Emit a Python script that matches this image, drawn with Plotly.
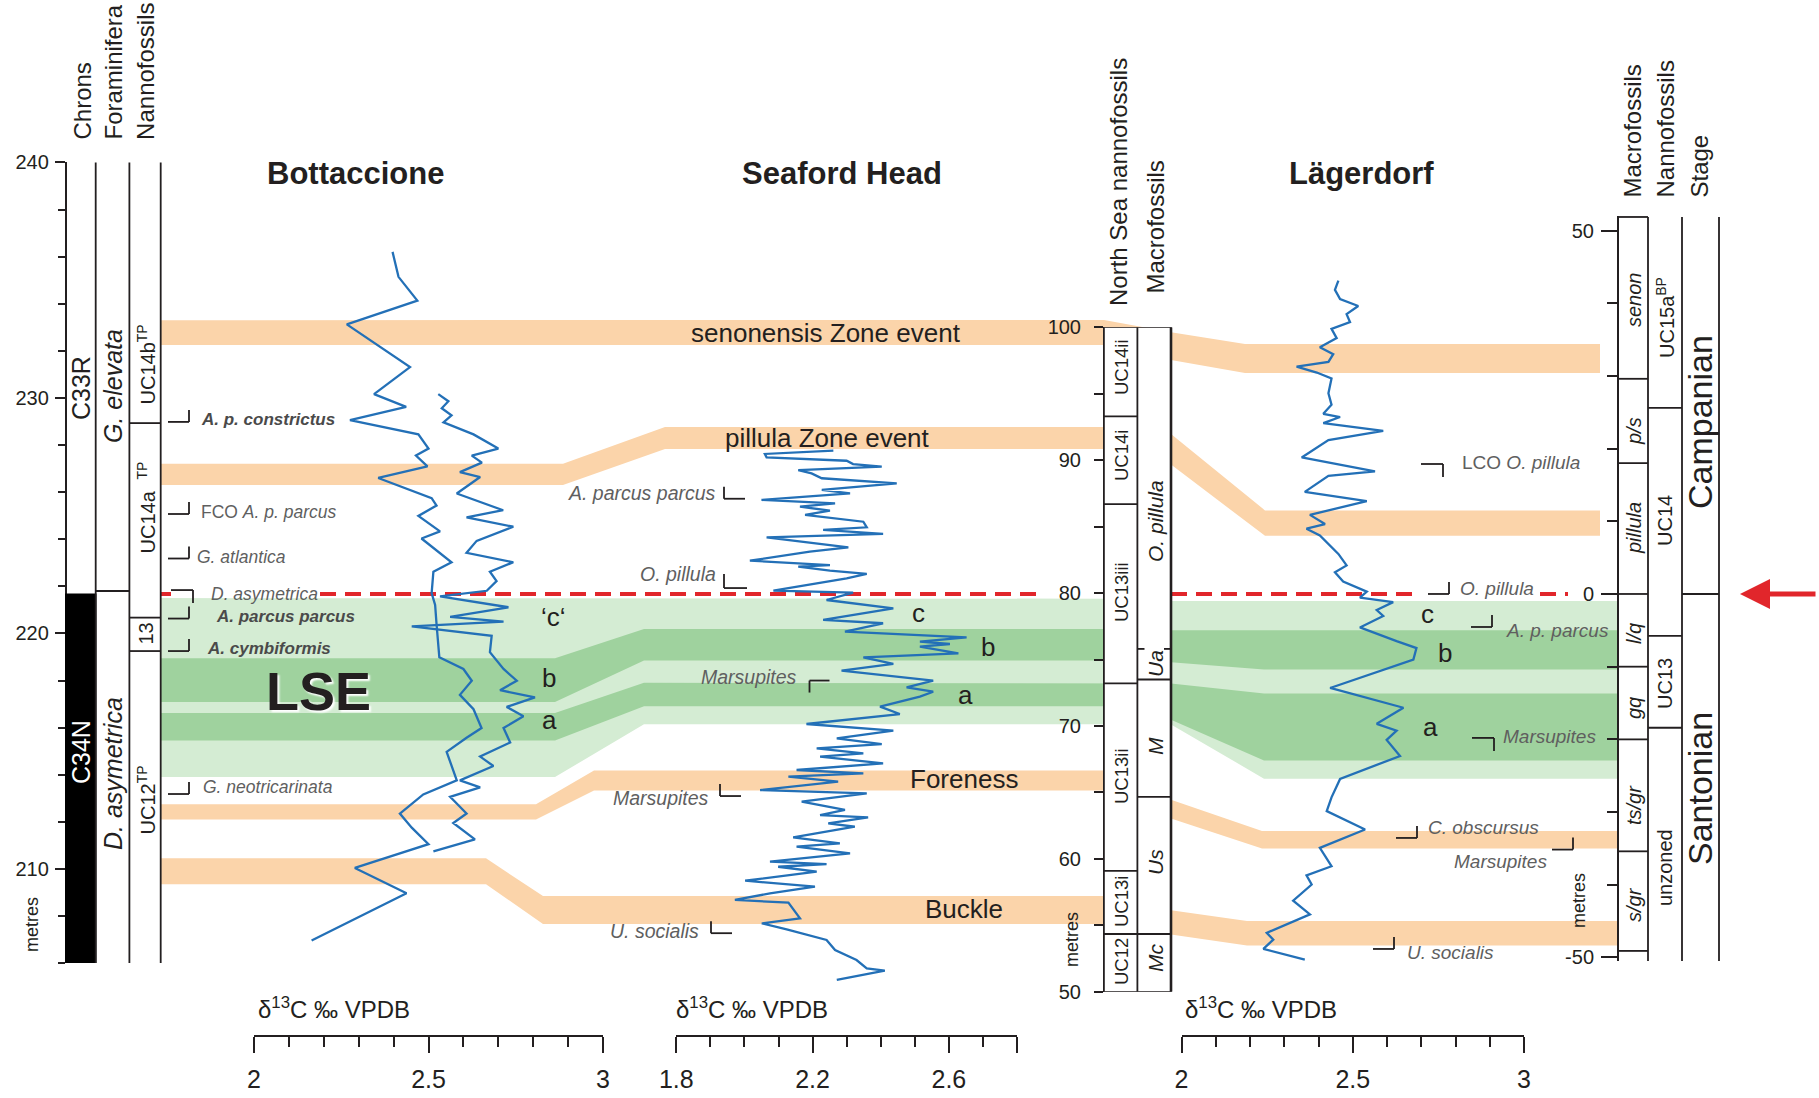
import plotly.graph_objects as go

W, H = 1819, 1098
FONT = "Liberation Sans, Arial, Helvetica, sans-serif"
INK = "#231f20"
MARK_GREY = "#5f5f5f"
MARK_BOLD = "#4a4a4a"
BLUE = "#2370b7"
ORANGE = "#fbd4aa"
LGREEN = "#d4ecd3"
DGREEN = "#9fd29e"
RED = "#e1262b"

# ---------------- data: d13C curves (per mille VPDB) vs depth (m) ----------------
bott_a_d13c = [2.397, 2.414, 2.468, 2.266, 2.447, 2.344, 2.436, 2.275, 2.471, 2.500, 2.464, 2.497, 2.356,
               2.509, 2.523, 2.471, 2.533, 2.480, 2.566, 2.514, 2.509, 2.519, 2.523, 2.531, 2.600, 2.624,
               2.590, 2.629, 2.652, 2.609, 2.552, 2.581, 2.485, 2.418, 2.452, 2.500, 2.289, 2.437, 2.165]
bott_a_depth = [236.20, 235.14, 234.13, 233.12, 231.31, 230.16, 229.62, 229.06, 228.45, 227.85, 227.55,
                227.09, 226.60, 225.74, 225.43, 224.99, 224.33, 224.03, 223.02, 222.62, 221.71, 221.21,
                220.40, 218.99, 218.49, 217.99, 217.39, 216.78, 215.98, 215.57, 214.97, 213.76, 213.16,
                212.35, 211.75, 211.05, 210.04, 208.97, 206.96]

bott_b_d13c = [2.528, 2.557, 2.538, 2.566, 2.543, 2.629, 2.700, 2.624, 2.653, 2.590, 2.648, 2.581, 2.714,
               2.609, 2.743, 2.638, 2.609, 2.743, 2.676, 2.695, 2.667, 2.533, 2.729, 2.562, 2.715, 2.452,
               2.681, 2.676, 2.715, 2.753, 2.705, 2.805, 2.724, 2.772, 2.715, 2.734, 2.648, 2.686, 2.590,
               2.648, 2.562, 2.609, 2.571, 2.633, 2.514]
bott_b_depth = [230.16, 229.86, 229.56, 229.26, 228.96, 228.45, 227.85, 227.55, 227.25, 226.85, 226.64,
                225.94, 225.23, 224.93, 224.53, 223.93, 223.42, 223.02, 222.62, 222.22, 221.81, 221.57,
                221.11, 220.70, 220.50, 220.30, 219.90, 219.20, 218.49, 217.99, 217.59, 217.28, 216.88,
                216.48, 215.98, 215.37, 214.77, 214.37, 213.76, 213.46, 213.06, 212.35, 211.95, 211.25,
                210.74]

seaf_d13c = [2.261, 2.060, 2.065, 2.300, 2.319, 2.403, 2.158, 2.197, 2.227, 2.447, 2.227, 2.310, 2.050,
             2.266, 2.163, 2.251, 2.178, 2.349, 2.359, 2.231, 2.407, 2.065, 2.305, 2.192, 2.016, 2.251,
             2.158, 2.251, 2.359, 2.300, 2.085, 2.319, 2.241, 2.437, 2.231, 2.407, 2.295, 2.652, 2.515,
             2.603, 2.515, 2.628, 2.349, 2.437, 2.285, 2.554, 2.476, 2.554, 2.515, 2.398, 2.456, 2.182,
             2.437, 2.271, 2.403, 2.212, 2.349, 2.222, 2.407, 2.153, 2.349, 2.129, 2.275, 2.046, 2.359,
             2.168, 2.295, 2.222, 2.363, 2.246, 2.324, 2.143, 2.280, 2.153, 2.310, 2.075, 2.241, 2.099,
             2.212, 2.002, 2.207, 2.075, 1.972, 2.129, 2.163, 2.051, 2.124, 2.241, 2.266, 2.329, 2.359,
             2.412, 2.271]
seaf_depth = [90.72, 90.47, 90.22, 89.96, 89.71, 89.51, 89.26, 89.01, 88.64, 88.26, 87.76, 87.51, 87.01,
              86.75, 86.50, 86.20, 85.88, 85.37, 84.95, 84.75, 84.45, 84.20, 83.44, 83.12, 82.44, 82.11,
              81.99, 81.69, 81.44, 81.11, 80.18, 80.03, 79.48, 78.85, 77.98, 77.73, 77.10, 76.67, 76.35,
              76.17, 75.97, 75.47, 75.17, 74.67, 74.16, 73.41, 72.91, 72.58, 72.21, 71.46, 70.90, 70.15,
              69.65, 69.07, 68.64, 68.32, 67.94, 67.69, 67.19, 66.69, 66.44, 66.19, 65.81, 65.18, 64.93,
              64.31, 63.68, 63.30, 63.13, 62.67, 62.42, 61.62, 61.17, 60.92, 60.42, 59.79, 59.61, 59.41,
              59.04, 58.36, 57.91, 57.41, 56.91, 56.71, 55.53, 55.15, 54.70, 53.90, 53.14, 52.39, 51.76,
              51.59, 50.89]

lag_d13c = [2.458, 2.448, 2.463, 2.516, 2.482, 2.492, 2.438, 2.453, 2.404, 2.443, 2.429, 2.336, 2.395,
            2.438, 2.429, 2.438, 2.414, 2.463, 2.414, 2.589, 2.429, 2.351, 2.565, 2.429, 2.360, 2.541,
            2.375, 2.419, 2.365, 2.404, 2.458, 2.482, 2.448, 2.472, 2.541, 2.521, 2.618, 2.570, 2.589,
            2.521, 2.628, 2.686, 2.677, 2.434, 2.648, 2.570, 2.628, 2.599, 2.638, 2.463, 2.438, 2.424,
            2.536, 2.404, 2.438, 2.365, 2.380, 2.326, 2.375, 2.249, 2.268, 2.239, 2.360]
lag_depth = [43.10, 41.83, 40.57, 39.62, 38.49, 37.41, 36.46, 35.20, 33.94, 32.99, 31.92, 31.28, 30.46,
             29.64, 27.62, 26.04, 24.78, 24.34, 23.51, 22.44, 21.18, 18.78, 16.88, 16.25, 14.04, 12.78,
             10.88, 9.62, 8.98, 8.04, 5.51, 3.93, 2.98, 1.72, 0.33, -0.49, -1.12, -2.20, -3.02, -4.60,
             -6.49, -7.44, -9.02, -12.93, -15.65, -17.86, -18.81, -20.07, -22.28, -25.44, -27.97, -29.87,
             -32.39, -34.92, -37.45, -38.71, -39.97, -42.18, -44.08, -46.61, -47.55, -48.82, -50.30]

# ---------------- data: correlation bands (depth in each section, m) ----------------
band_kind = ["orange", "orange", "light", "dark", "dark", "orange", "orange"]
band_bott_top = [233.30, 227.20, 221.50, 218.95, 216.62, 212.75, 210.45]
band_bott_bot = [232.25, 226.30, 213.90, 217.09, 215.45, 212.10, 209.35]
band_seaf_top = [100.55, 92.50, 79.58, 77.30, 73.25, 66.65, 57.20]
band_seaf_bot = [98.67, 90.85, 70.13, 74.93, 71.48, 65.15, 55.10]
band_lag_top_start = [36.0, 22.0, -0.95, -5.0, -12.3, -28.3, -43.5]
band_lag_bot_start = [32.2, 17.8, -17.95, -9.4, -17.3, -30.9, -46.85]
band_lag_top_end = [34.4, 11.5, -0.95, -5.0, -13.7, -32.6, -45.0]
band_lag_bot_end = [30.4, 8.0, -25.4, -10.4, -22.9, -35.0, -48.35]
red_line_lag_depth = 0.0

# ---------------- data: zone boundaries (m) ----------------
bott_chron_boundary = 221.66
bott_foram_boundary = 221.80
bott_nanno_bounds = [228.93, 220.67, 219.25]
seaf_ns_nanno_bounds = [93.3, 86.7, 73.2, 59.1, 54.35]
seaf_macro_bounds = [73.5, 64.66, 54.35]
seaf_macro_minor = 75.8
lag_macro_bounds = [29.6, 18.0, 0.0, -10.0, -20.0, -35.4, -49.1]
lag_macro_top = 51.86
lag_nanno_bounds = [25.6, -5.75, -18.4]
lag_stage_bound = 0.0

# ---------------- data: bio-events ----------------
ev_bott_label = ["<b><i>A. p. constrictus</i></b>", "FCO <i>A. p. parcus</i>", "<i>G. atlantica</i>",
                 "<i>D. asymetrica</i>", "<b><i>A. parcus parcus</i></b>", "<b><i>A. cymbiformis</i></b>",
                 "<i>G. neotricarinata</i>"]
ev_bott_depth = [228.98, 225.07, 223.18, 221.84, 220.63, 219.25, 213.18]
ev_seaf_label = ["<i>A. parcus parcus</i>", "<i>O. pillula</i>", "<i>Marsupites</i>", "<i>Marsupites</i>",
                 "<i>U. socialis</i>"]
ev_seaf_depth = [87.1, 80.38, 73.42, 64.73, 54.41]
ev_lag_label = ["LCO <i>O. pillula</i>", "<i>O. pillula</i>", "<i>A. p. parcus</i>", "<i>Marsupites</i>",
                "<i>C. obscursus</i>", "<i>Marsupites</i>", "<i>U. socialis</i>"]
ev_lag_depth = [17.88, 0.0, -4.54, -19.8, -33.56, -35.16, -48.83]

# ---------------- layout geometry (pixels) ----------------
SEC = {
    "B": dict(x_px=(254.0, 603.0), x_rng=(2.0, 3.0), y_px=(963.1, 162.4), y_rng=(206.0, 240.0), axis_x=65.8),
    "S": dict(x_px=(676.3, 1017.0), x_rng=(1.8, 2.8), y_px=(991.8, 327.3), y_rng=(50.0, 100.0), axis_x=1104.0),
    "L": dict(x_px=(1181.5, 1524.0), x_rng=(2.0, 3.0), y_px=(961.1, 215.96), y_rng=(-50.5, 52.0), axis_x=1618.0),
}
XAXIS_Y = 1036.0


def ypx(sec, d):
    s = SEC[sec]
    p0, p1 = s["y_px"]
    r0, r1 = s["y_rng"]
    return p0 + (d - r0) / (r1 - r0) * (p1 - p0)


BAND_X_B_START, BAND_X_S_END, BAND_X_L_START = 160.7, 1104.0, 1171.0
band_xB_end = [600, 563, 555, 555, 555, 536, 486]
band_xS_start = [600, 665, 644, 644, 644, 594, 543]
band_xL_kink = [1245, 1265, 1264, 1264, 1264, 1262, 1247]
band_xL_end = [1600, 1600, 1618, 1618, 1618, 1618, 1618]
band_color = {"orange": ORANGE, "light": LGREEN, "dark": DGREEN}

fig = go.Figure()

# ---- bands (pixel overlay) ----
for i, kind in enumerate(band_kind):
    xs = [BAND_X_B_START, band_xB_end[i], band_xS_start[i], BAND_X_S_END, BAND_X_L_START,
          band_xL_kink[i], band_xL_end[i]]
    yt = [ypx("B", band_bott_top[i]), ypx("B", band_bott_top[i]), ypx("S", band_seaf_top[i]),
          ypx("S", band_seaf_top[i]), ypx("L", band_lag_top_start[i]), ypx("L", band_lag_top_end[i]),
          ypx("L", band_lag_top_end[i])]
    yb = [ypx("B", band_bott_bot[i]), ypx("B", band_bott_bot[i]), ypx("S", band_seaf_bot[i]),
          ypx("S", band_seaf_bot[i]), ypx("L", band_lag_bot_start[i]), ypx("L", band_lag_bot_end[i]),
          ypx("L", band_lag_bot_end[i])]
    fig.add_trace(go.Scatter(x=xs + xs[::-1], y=yt + yb[::-1], fill="toself", fillcolor=band_color[kind],
                             mode="lines", line=dict(width=0), hoverinfo="skip", showlegend=False,
                             xaxis="x", yaxis="y"))

# ---- red dashed datum line ----
ry = ypx("L", red_line_lag_depth)
rx = [160.7, 171, None, 320, 1045, None, 1171, 1421, None, 1540, 1568]
fig.add_trace(go.Scatter(x=rx, y=[None if v is None else ry for v in rx], mode="lines",
                         line=dict(color=RED, width=4, dash="16px,9px"), hoverinfo="skip",
                         showlegend=False, xaxis="x", yaxis="y", connectgaps=False))

# ---- d13C curves ----
for xs, ys, xa, ya in [(bott_a_d13c, bott_a_depth, "x2", "y2"), (bott_b_d13c, bott_b_depth, "x2", "y2"),
                       (seaf_d13c, seaf_depth, "x3", "y3"), (lag_d13c, lag_depth, "x4", "y4")]:
    fig.add_trace(go.Scatter(x=xs, y=ys, mode="lines", line=dict(color=BLUE, width=2.3),
                             hoverinfo="skip", showlegend=False, xaxis=xa, yaxis=ya))

shapes = []


def seg(x0, y0, x1, y1, w=1.8, color=INK, yref="y"):
    shapes.append(dict(type="line", xref="x", yref=yref, x0=x0, y0=y0, x1=x1, y1=y1,
                       line=dict(color=color, width=w), layer="above"))


# ---- Bottaccione columns ----
shapes.append(dict(type="rect", xref="x", yref="y2", x0=65.8, x1=95.7, y0=206.0, y1=bott_chron_boundary,
                   fillcolor="black", line=dict(color="black", width=1.5), layer="above"))
for xv in [95.7, 129.4, 160.7]:
    seg(xv, 206.0, xv, 240.1, yref="y2")
seg(65.8, 240.0, 65.8, 240.1, yref="y2")
seg(95.7, bott_foram_boundary, 129.4, bott_foram_boundary, yref="y2")
for d in bott_nanno_bounds:
    seg(129.4, d, 160.7, d, yref="y2")

# ---- Seaford columns ----
for x0, x1 in [(1104.0, 1137.5), (1137.5, 1171.0)]:
    shapes.append(dict(type="rect", xref="x", yref="y3", x0=x0, x1=x1, y0=50.0, y1=100.0,
                       fillcolor="white", line=dict(color=INK, width=1.6), layer="above"))
seg(1171.0, 50.0, 1171.0, 100.0, w=2.6, yref="y3")
for d in seaf_ns_nanno_bounds:
    seg(1104.0, d, 1137.5, d, yref="y3")
for d in seaf_macro_bounds:
    seg(1137.5, d, 1171.0, d, yref="y3")
seg(1137.5, seaf_macro_minor, 1144.5, seaf_macro_minor, yref="y3")
seg(1164.0, seaf_macro_minor, 1171.0, seaf_macro_minor, yref="y3")

# ---- Lagerdorf right columns ----
seg(1618.0, lag_macro_top, 1648.0, lag_macro_top, yref="y4")
for xv in [1648.0, 1682.0, 1719.0]:
    seg(xv, -50.6, xv, lag_macro_top, yref="y4")
for d in lag_macro_bounds:
    seg(1618.0, d, 1648.0, d, yref="y4")
for d in lag_nanno_bounds:
    seg(1648.0, d, 1682.0, d, yref="y4")
seg(1682.0, lag_stage_bound, 1719.0, lag_stage_bound, yref="y4")


# ---- bracket marks ----
def bracket(kind, x0, y):
    if kind == "_|":
        seg(x0, y, x0 + 21, y); seg(x0 + 21, y - 12, x0 + 21, y)
    elif kind == "¬":
        seg(x0, y, x0 + 22, y); seg(x0 + 22, y, x0 + 22, y + 13)
    elif kind == "L":
        seg(x0, y - 12, x0, y); seg(x0, y, x0 + 21, y)
    elif kind == "L2":
        seg(x0, y - 14, x0, y); seg(x0, y, x0 + 23, y)
    elif kind == "Γ":
        seg(x0, y, x0, y + 12); seg(x0, y, x0 + 20, y)


annotations = []


def ann(x, y, text, size=20, color=INK, xanchor="center", yanchor="middle", angle=0, **kw):
    d = dict(x=x, y=y, xref="x", yref="y", text=text, showarrow=False, xanchor=xanchor, yanchor=yanchor,
             textangle=angle, font=dict(family=FONT, size=size, color=color))
    d.update(kw)
    annotations.append(d)


# event spec: (kind, bracket x0, text x, text anchor, text dy)
spec_bott = [("_|", 168, 199, "left", -2), ("_|", 168, 199, "left", -2), ("_|", 168, 195, "left", -2),
             ("¬", 171, 209, "left", 3.5), ("_|", 168, 214, "left", -2), ("_|", 168, 205, "left", -2.5),
             ("_|", 168, 201, "left", -6.7)]
spec_seaf = [("L", 724, 718, "right", -6), ("L2", 724, 718, "right", -14), ("Γ", 809.5, 799, "right", -3.6),
             ("L", 720, 711, "right", 2), ("L", 711, 701, "right", -1.7)]
spec_lag = [("¬", 1421, 1460, "left", -2), ("_|", 1428, 1458, "left", -5.4), ("_|", 1471, 1504, "left", 4),
            ("¬", 1472, 1501, "left", -1), ("_|", 1396, 1426, "left", -10), ("_|", 1552, 1549, "right", 12.4),
            ("_|", 1373, 1405, "left", 3.8)]

for sec, labels, depths, specs, size in [("B", ev_bott_label, ev_bott_depth, spec_bott, 17.5),
                                         ("S", ev_seaf_label, ev_seaf_depth, spec_seaf, 19.5),
                                         ("L", ev_lag_label, ev_lag_depth, spec_lag, 19)]:
    for lab, d, (kind, bx, tx, anc, dy) in zip(labels, depths, specs):
        y = ypx(sec, d)
        bracket(kind, bx, y)
        col = MARK_BOLD if "<b>" in lab else MARK_GREY
        ann(tx, y + dy, lab, size=(17 if "<b>" in lab else size), color=col, xanchor=anc)

# ---- titles ----
for x, t in [(355, "Bottaccione"), (841.5, "Seaford Head"), (1361, "Lägerdorf")]:
    ann(x, 173, "<b>" + t + "</b>", size=31)

# ---- column headers (rotated) ----
for x, yb, t in [(82, 142, "Chrons"), (113, 142, "Foraminifera"), (145.4, 142, "Nannofossils"),
                 (1118, 308, "North Sea nannofossils"), (1155, 296, "Macrofossils"),
                 (1632, 200, "Macrofossils"), (1665, 200, "Nannofossils"), (1699, 200, "Stage")]:
    ann(x, yb, t, size=24, angle=-90, yanchor="bottom")

# ---- Bottaccione column labels ----
ann(81, 388, "C33R", size=25, angle=-90)
ann(81, 752, "C34N", size=25, angle=-90, color="white")
ann(113, 386, "<i>G. elevata</i>", size=25, angle=-90)
ann(113, 774, "<i>D. asymetrica</i>", size=25, angle=-90)
ann(145.5, 365, "UC14b<sup>TP</sup>", size=20, angle=-90)
ann(145.5, 508, "UC14a<sup>\u00a0\u00a0\u00a0TP</sup>", size=20, angle=-90)
ann(145.5, 634, "13", size=20, angle=-90)
ann(145.5, 800, "UC12<sup>TP</sup>", size=20, angle=-90)

# ---- Seaford column labels ----
for y, t in [(367, "UC14ii"), (456, "UC14i"), (592, "UC13iii"), (776, "UC13ii"), (902, "UC13i"), (962, "UC12")]:
    ann(1121, y, t, size=18.5, angle=-90)
for y, t in [(521, "O. pillula"), (664, "Ua"), (746, "M"), (862, "Us"), (958, "Mc")]:
    ann(1155, y, "<i>" + t + "</i>", size=21, angle=-90)

# ---- Lagerdorf column labels ----
for y, t in [(300, "senon"), (431, "p/s"), (528, "pillula"), (634, "l/q"), (708, "gq"), (805, "ts/gr"),
             (905, "s/gr")]:
    ann(1634, y, "<i>" + t + "</i>", size=20, angle=-90)
for y, t in [(318, "UC15a<sup>BP</sup>"), (521, "UC14"), (684, "UC13"), (868, "unzoned")]:
    ann(1665, y, t, size=20, angle=-90)
ann(1700, 422, "Campanian", size=34, angle=-90)
ann(1700, 789, "Santonian", size=34, angle=-90)

# ---- metres ----
for x, y in [(32, 925), (1072, 940), (1579, 901)]:
    ann(x, y, "metres", size=18, angle=-90)

# ---- d13C axis titles ----
for x in [256, 674, 1183]:
    ann(x, 1008, "δ<sup>13</sup>C ‰ VPDB", size=24, xanchor="left")

# ---- band labels ----
for x, y, t in [(826, 333, "senonensis Zone event"), (827.5, 438, "pillula Zone event"),
                (964, 779, "Foreness"), (964, 909, "Buckle")]:
    ann(x, y, t, size=26)

# ---- a b c labels ----
for x, y, t in [(553, 616.5, "‘c‘"), (549, 678, "b"), (549, 720, "a"), (918, 613, "c"), (988, 647, "b"),
                (965, 695, "a"), (1427, 614, "c"), (1445, 653, "b"), (1430, 727, "a")]:
    ann(x, y, t, size=26)

ann(318.5, 691, "<b>LSE</b>", size=54)
annotations[-1]["font"]["shadow"] = "2px 2px 2px white"

# ---- red arrow ----
annotations.append(dict(x=1740, y=ry, ax=1817, ay=ry, xref="x", yref="y", axref="x", ayref="y", text="",
                        showarrow=True, arrowhead=2, arrowsize=1.2, arrowwidth=5, arrowcolor=RED))


def xaxis(sec, tickvals, ticktext, minor_vals):
    s = SEC[sec]
    return dict(domain=[s["x_px"][0] / W, s["x_px"][1] / W], range=list(s["x_rng"]), anchor="free",
                position=1 - XAXIS_Y / H, showgrid=False, zeroline=False, showline=True, linecolor=INK,
                linewidth=2, ticks="outside", ticklen=16, tickwidth=2, tickcolor=INK, tickmode="array",
                tickvals=tickvals, ticktext=ticktext, ticklabelstandoff=5, automargin=False,
                tickfont=dict(family=FONT, size=25, color=INK),
                minor=dict(tickvals=minor_vals, ticks="outside", ticklen=10, tickwidth=2, tickcolor=INK),
                fixedrange=True)


def yaxis(sec, tickvals, ticktext, minor_vals, ticklen, minorlen, standoff):
    s = SEC[sec]
    return dict(domain=[1 - s["y_px"][0] / H, 1 - s["y_px"][1] / H], range=list(s["y_rng"]), anchor="free",
                position=s["axis_x"] / W, showgrid=False, zeroline=False, showline=True, linecolor=INK,
                linewidth=2, ticks="outside", ticklen=ticklen, tickwidth=2, tickcolor=INK, tickmode="array",
                tickvals=tickvals, ticktext=ticktext, ticklabelstandoff=standoff, automargin=False,
                tickfont=dict(family=FONT, size=20, color=INK),
                minor=dict(tickvals=minor_vals, ticks="outside", ticklen=minorlen, tickwidth=2, tickcolor=INK),
                fixedrange=True)


tenths_B = [2.1, 2.2, 2.3, 2.4, 2.6, 2.7, 2.8, 2.9]
tenths_S = [1.9, 2.0, 2.1, 2.3, 2.4, 2.5, 2.7]
fig.update_layout(
    template="none",
    width=W, height=H, autosize=False, margin=dict(l=0, r=0, t=0, b=0, pad=0), paper_bgcolor="white",
    plot_bgcolor="rgba(0,0,0,0)", showlegend=False, hovermode=False,
    xaxis=dict(range=[0, W], domain=[0, 1], visible=False, fixedrange=True, automargin=False),
    yaxis=dict(range=[H, 0], domain=[0, 1], visible=False, fixedrange=True, automargin=False),
    xaxis2=xaxis("B", [2, 2.5, 3], ["2", "2.5", "3"], tenths_B),
    xaxis3=xaxis("S", [1.8, 2.2, 2.6, 2.8], ["1.8", "2.2", "2.6", ""], tenths_S),
    xaxis4=xaxis("L", [2, 2.5, 3], ["2", "2.5", "3"], tenths_B),
    yaxis2=yaxis("B", [210, 220, 230, 240], ["210", "220", "230", "240"],
                 [206, 208, 212, 214, 216, 218, 222, 224, 226, 228, 232, 234, 236, 238], 10, 7, 2),
    yaxis3=yaxis("S", [50, 60, 70, 80, 90, 100], ["50", "60", "70", "80", "90", "100"],
                 [55, 65, 75, 85, 95], 9, 9, 9),
    yaxis4=yaxis("L", [-50, 0, 50], ["-50", "0", "50"], [-40, -30, -20, -10, 10, 20, 30, 40], 16, 10, 3),
    shapes=shapes, annotations=annotations,
    font=dict(family=FONT, color=INK),
)

fig.write_html("out.html", config={"displayModeBar": False},
               post_script="document.body.style.margin='0px';")
